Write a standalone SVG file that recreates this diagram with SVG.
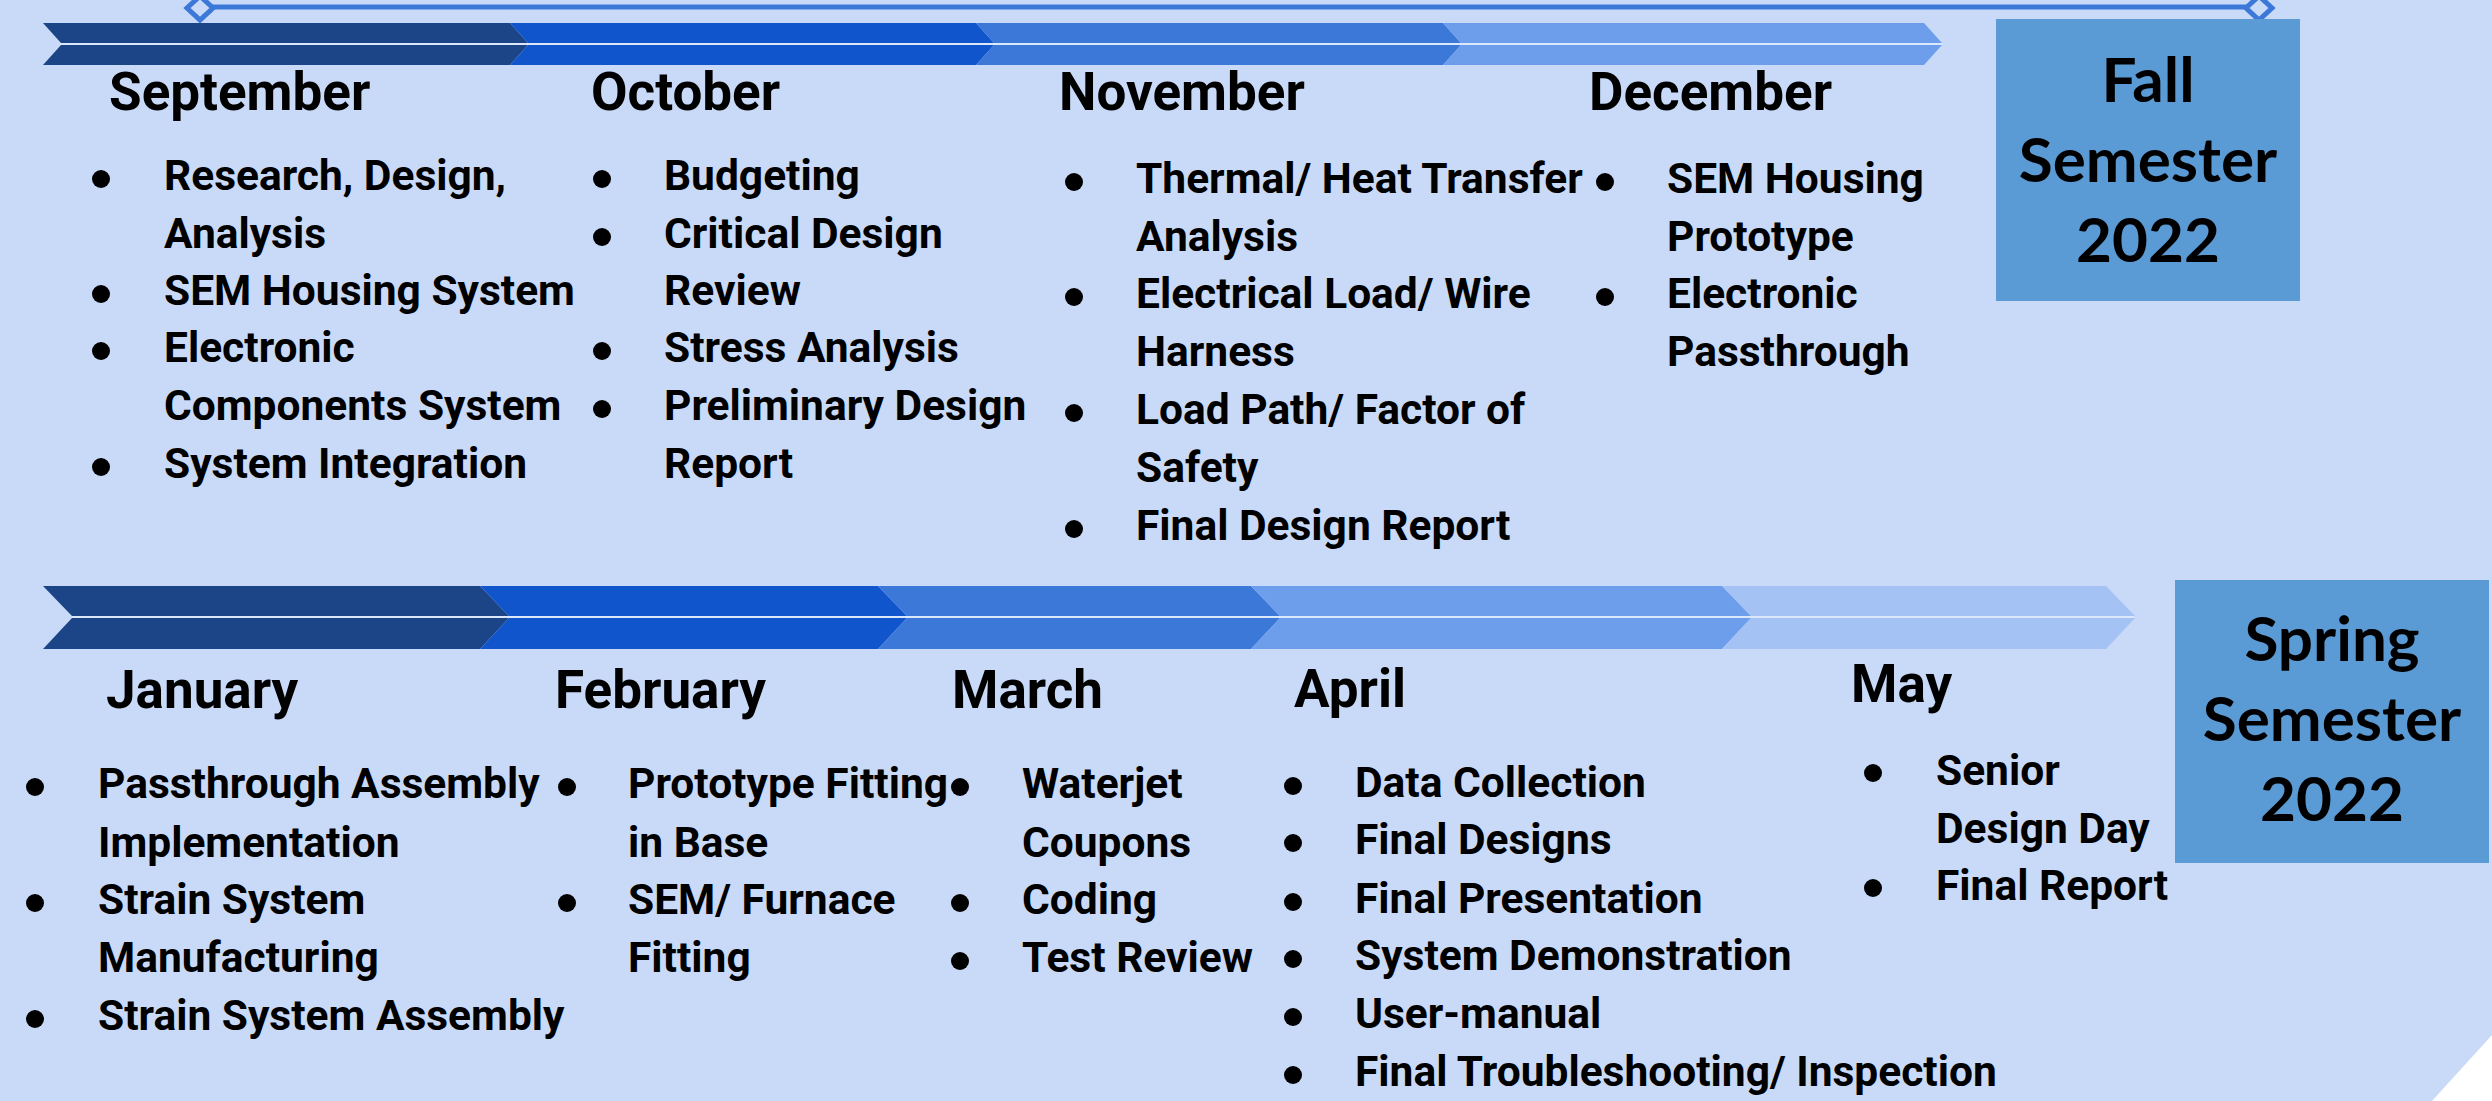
<svg xmlns="http://www.w3.org/2000/svg" width="2492" height="1101" viewBox="0 0 2492 1101">
  <style>
    .month { font-family: Roboto, "Liberation Sans", sans-serif; font-weight: 700; font-size: 53px; fill: #000; }
    .item { font-family: Roboto, "Liberation Sans", sans-serif; font-weight: 700; font-size: 42.5px; fill: #000; }
    .sem { font-family: Lato, "Open Sans", sans-serif; font-weight: 700; font-size: 62px; fill: #000; text-anchor: middle; }
    .dot { fill: #000; }
    .c1 { fill: #1c4587; }
    .c2 { fill: #1155cc; }
    .c3 { fill: #3c78d8; }
    .c4 { fill: #6d9eeb; }
    .c5 { fill: #a4c2f4; }
    .box { fill: #5b9bd5; }
  </style>

  <!-- page background with clipped lower-right corner -->
  <rect width="2492" height="1101" fill="#ffffff"/>
  <polygon points="0,0 2492,0 2492,1035 2432,1101 0,1101" fill="#c9daf8"/>

  <!-- timeline bar with end markers -->
  <g id="timeline-bar">
    <line x1="200" y1="7" x2="2259" y2="7" stroke="#3c78d8" stroke-width="5"/>
    <polygon points="200,-4 213,8 200,20 187,8" fill="#c9daf8" stroke="#3c78d8" stroke-width="5"/>
    <polygon points="2259,-4 2272,8 2259,20 2246,8" fill="#c9daf8" stroke="#3c78d8" stroke-width="5"/>
  </g>

  <!-- fall chevrons: top half y 23-43, bottom half y 45-65 -->
  <g id="fall-chevrons">
    <polygon class="c1" points="43,23 510,23 528,43 61,43"/>
    <polygon class="c1" points="61,45 528,45 510,65 43,65"/>
    <polygon class="c2" points="510,23 976,23 994,43 528,43"/>
    <polygon class="c2" points="528,45 994,45 976,65 510,65"/>
    <polygon class="c3" points="976,23 1443,23 1461,43 994,43"/>
    <polygon class="c3" points="994,45 1461,45 1443,65 976,65"/>
    <polygon class="c4" points="1443,23 1924,23 1942,43 1461,43"/>
    <polygon class="c4" points="1461,45 1942,45 1924,65 1443,65"/>
    <line x1="60" y1="44" x2="1942" y2="44" stroke="#dbe7fb" stroke-width="2"/>
  </g>

  <!-- spring chevrons: top half y 586-616, bottom half y 618-649 -->
  <g id="spring-chevrons">
    <polygon class="c1" points="43,586 480,586 509,616 72,616"/>
    <polygon class="c1" points="72,618 509,618 480,649 43,649"/>
    <polygon class="c2" points="480,586 878,586 907,616 509,616"/>
    <polygon class="c2" points="509,618 907,618 878,649 480,649"/>
    <polygon class="c3" points="878,586 1251,586 1280,616 907,616"/>
    <polygon class="c3" points="907,618 1280,618 1251,649 878,649"/>
    <polygon class="c4" points="1251,586 1722,586 1751,616 1280,616"/>
    <polygon class="c4" points="1280,618 1751,618 1722,649 1251,649"/>
    <polygon class="c5" points="1722,586 2106,586 2135,616 1751,616"/>
    <polygon class="c5" points="1751,618 2135,618 2106,649 1722,649"/>
    <line x1="72" y1="617" x2="2134" y2="617" stroke="#dbe7fb" stroke-width="2"/>
  </g>

  <!-- semester boxes -->
  <g id="fall-semester">
    <rect class="box" x="1996" y="19" width="304" height="282"/>
    <text class="sem" x="2148" y="102">Fall</text>
    <text class="sem" x="2148" y="182">Semester</text>
    <text class="sem" x="2148" y="262">2022</text>
  </g>
  <g id="spring-semester">
    <rect class="box" x="2175" y="580" width="314" height="283"/>
    <text class="sem" x="2332" y="661">Spring</text>
    <text class="sem" x="2332" y="741">Semester</text>
    <text class="sem" x="2332" y="821">2022</text>
  </g>

  <!-- fall months -->
  <g id="september">
    <text class="month" x="109" y="110">September</text>
    <circle class="dot" cx="101" cy="179" r="9"/>
    <circle class="dot" cx="101" cy="294" r="9"/>
    <circle class="dot" cx="101" cy="351" r="9"/>
    <circle class="dot" cx="101" cy="467" r="9"/>
    <text class="item" x="164" y="190">Research, Design,</text>
    <text class="item" x="164" y="248">Analysis</text>
    <text class="item" x="164" y="305">SEM Housing System</text>
    <text class="item" x="164" y="362">Electronic</text>
    <text class="item" x="164" y="420">Components System</text>
    <text class="item" x="164" y="478">System Integration</text>
  </g>

  <g id="october">
    <text class="month" x="591" y="110">October</text>
    <circle class="dot" cx="602" cy="179" r="9"/>
    <circle class="dot" cx="602" cy="237" r="9"/>
    <circle class="dot" cx="602" cy="351" r="9"/>
    <circle class="dot" cx="602" cy="409" r="9"/>
    <text class="item" x="664" y="190">Budgeting</text>
    <text class="item" x="664" y="248">Critical Design</text>
    <text class="item" x="664" y="305">Review</text>
    <text class="item" x="664" y="362">Stress Analysis</text>
    <text class="item" x="664" y="420">Preliminary Design</text>
    <text class="item" x="664" y="478">Report</text>
  </g>

  <g id="november">
    <text class="month" x="1059" y="110">November</text>
    <circle class="dot" cx="1074" cy="182" r="9"/>
    <circle class="dot" cx="1074" cy="297" r="9"/>
    <circle class="dot" cx="1074" cy="413" r="9"/>
    <circle class="dot" cx="1074" cy="529" r="9"/>
    <text class="item" x="1136" y="193">Thermal/ Heat Transfer</text>
    <text class="item" x="1136" y="251">Analysis</text>
    <text class="item" x="1136" y="308">Electrical Load/ Wire</text>
    <text class="item" x="1136" y="366">Harness</text>
    <text class="item" x="1136" y="424">Load Path/ Factor of</text>
    <text class="item" x="1136" y="482">Safety</text>
    <text class="item" x="1136" y="540">Final Design Report</text>
  </g>

  <g id="december">
    <text class="month" x="1589" y="110">December</text>
    <circle class="dot" cx="1605" cy="182" r="9"/>
    <circle class="dot" cx="1605" cy="297" r="9"/>
    <text class="item" x="1667" y="193">SEM Housing</text>
    <text class="item" x="1667" y="251">Prototype</text>
    <text class="item" x="1667" y="308">Electronic</text>
    <text class="item" x="1667" y="366">Passthrough</text>
  </g>

  <!-- spring months -->
  <g id="january">
    <text class="month" x="106" y="708">January</text>
    <circle class="dot" cx="35" cy="787" r="9"/>
    <circle class="dot" cx="35" cy="903" r="9"/>
    <circle class="dot" cx="35" cy="1019" r="9"/>
    <text class="item" x="98" y="798">Passthrough Assembly</text>
    <text class="item" x="98" y="857">Implementation</text>
    <text class="item" x="98" y="914">Strain System</text>
    <text class="item" x="98" y="972">Manufacturing</text>
    <text class="item" x="98" y="1030">Strain System Assembly</text>
  </g>

  <g id="february">
    <text class="month" x="555" y="708">February</text>
    <circle class="dot" cx="567" cy="787" r="9"/>
    <circle class="dot" cx="567" cy="903" r="9"/>
    <text class="item" x="628" y="798">Prototype Fitting</text>
    <text class="item" x="628" y="857">in Base</text>
    <text class="item" x="628" y="914">SEM/ Furnace</text>
    <text class="item" x="628" y="972">Fitting</text>
  </g>

  <g id="march">
    <text class="month" x="952" y="708">March</text>
    <circle class="dot" cx="960" cy="787" r="9"/>
    <circle class="dot" cx="960" cy="903" r="9"/>
    <circle class="dot" cx="960" cy="961" r="9"/>
    <text class="item" x="1022" y="798">Waterjet</text>
    <text class="item" x="1022" y="857">Coupons</text>
    <text class="item" x="1022" y="914">Coding</text>
    <text class="item" x="1022" y="972">Test Review</text>
  </g>

  <g id="april">
    <text class="month" x="1294" y="707">April</text>
    <circle class="dot" cx="1293" cy="786" r="9"/>
    <circle class="dot" cx="1293" cy="843" r="9"/>
    <circle class="dot" cx="1293" cy="902" r="9"/>
    <circle class="dot" cx="1293" cy="959" r="9"/>
    <circle class="dot" cx="1293" cy="1017" r="9"/>
    <circle class="dot" cx="1293" cy="1075" r="9"/>
    <text class="item" x="1355" y="797">Data Collection</text>
    <text class="item" x="1355" y="854">Final Designs</text>
    <text class="item" x="1355" y="913">Final Presentation</text>
    <text class="item" x="1355" y="970">System Demonstration</text>
    <text class="item" x="1355" y="1028">User-manual</text>
    <text class="item" x="1355" y="1086">Final Troubleshooting/ Inspection</text>
  </g>

  <g id="may">
    <text class="month" x="1851" y="702">May</text>
    <circle class="dot" cx="1873" cy="773" r="9"/>
    <circle class="dot" cx="1873" cy="888" r="9"/>
    <text class="item" x="1936" y="785">Senior</text>
    <text class="item" x="1936" y="843">Design Day</text>
    <text class="item" x="1936" y="900">Final Report</text>
  </g>
</svg>
